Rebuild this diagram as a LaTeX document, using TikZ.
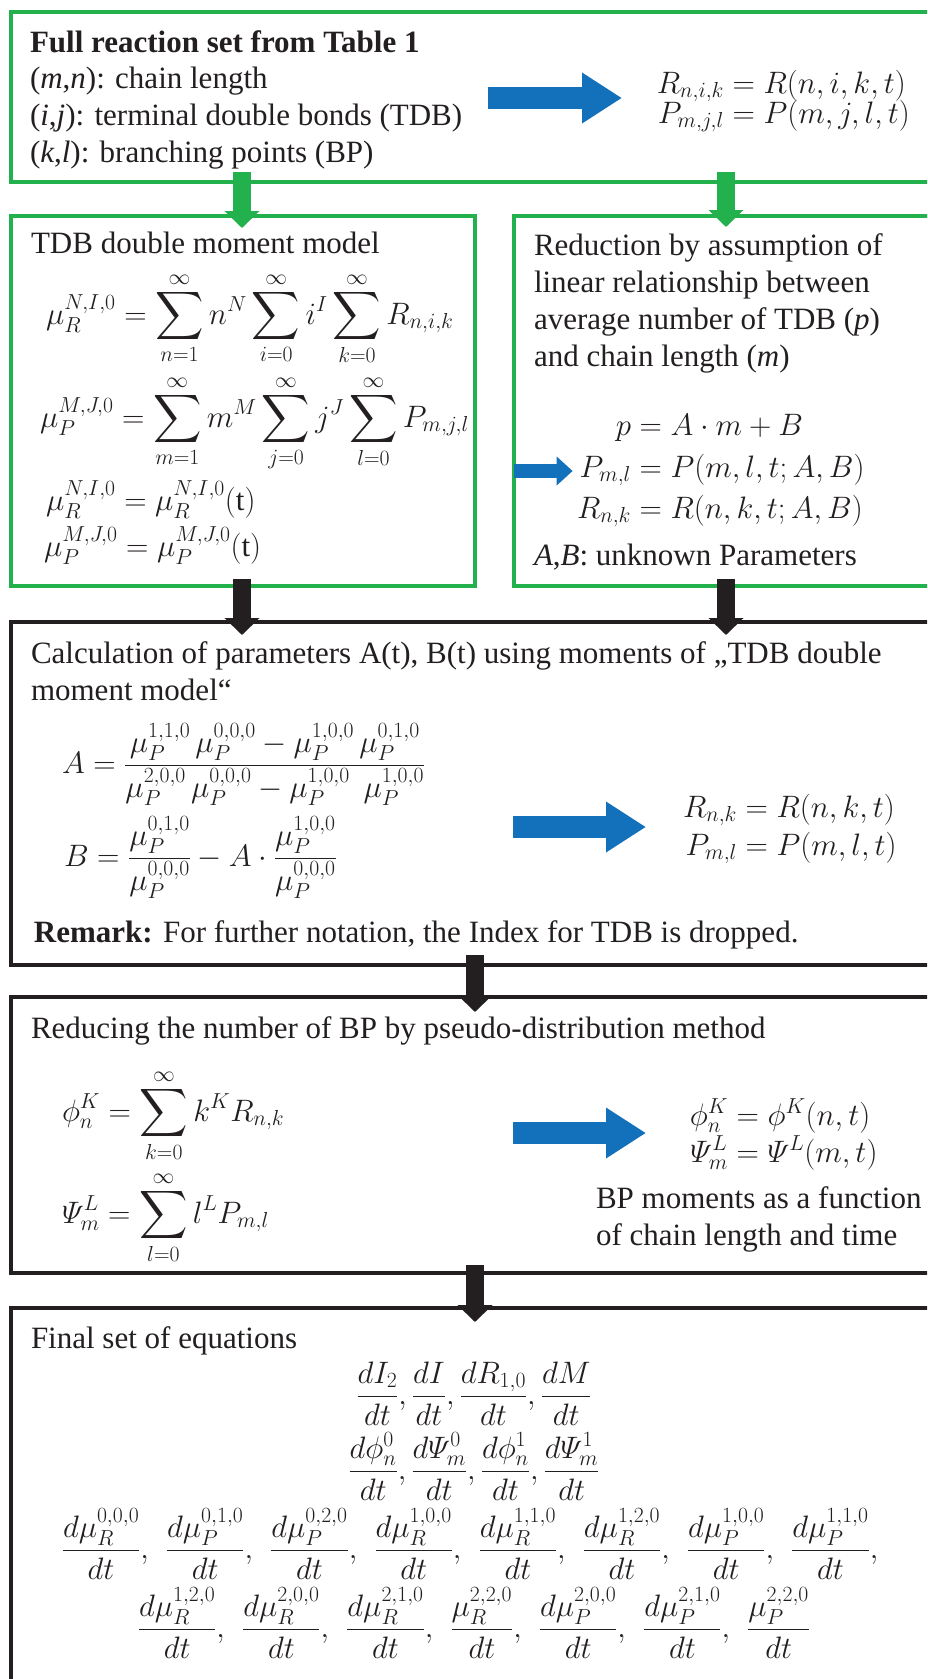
\RequirePackage{fix-cm}
\documentclass[tikz,border=0pt]{standalone}
\usepackage{amsmath}
\usepackage{graphicx}
\usepackage{fontspec}
\setmainfont{Liberation Serif}
\usetikzlibrary{arrows.meta,calc}
\definecolor{fgreen}{RGB}{34,177,76}
\definecolor{fblue}{RGB}{19,112,186}
\definecolor{fblack}{RGB}{35,31,32}
\newcommand{\BigSum}{\mathop{\vcenter{\hbox{\scalebox{1.35}{$\displaystyle\sum$}}}}\limits}
\newcommand{\cm}{,\hspace{12pt}}
\tikzset{
 gbox/.style={draw=fgreen, line width=3.2pt, inner sep=0pt, outer sep=0pt, anchor=north west},
 kbox/.style={draw=fblack, line width=3.4pt, inner sep=0pt, outer sep=0pt, anchor=north west},
 txt/.style={inner sep=0pt, outer sep=0pt, anchor=base west, text=fblack},
 lhs/.style={inner sep=0pt, outer sep=0pt, anchor=base east, text=fblack},
 ctr/.style={inner sep=0pt, outer sep=0pt, anchor=base, text=fblack},
 garrow/.style={draw=fgreen, line width=18pt, -{Triangle[width=34pt,length=17pt]}},
 karrow/.style={draw=fblack, line width=18pt, -{Triangle[width=34pt,length=17pt]}},
 barrow/.style={draw=fblue, line width=22pt, -{Triangle[width=48pt,length=40pt]}},
 sbarrow/.style={draw=fblue, line width=14pt, -{Triangle[width=28pt,length=16pt]}},
}
\begin{document}
\begin{tikzpicture}[x=1pt,y=-1pt,font=\fontsize{31}{37}\selectfont]
\useasboundingbox (0,0) rectangle (927,1679);
\clip (0,0) rectangle (927,1679);
\fill[white] (0,0) rectangle (927,1679);

% boxes
\node[gbox, minimum width=1000pt, minimum height=170pt] (b1) at (11,12) {};
\node[gbox, minimum width=464pt, minimum height=370pt] (b2) at (11,216) {};
\node[gbox, minimum width=600pt, minimum height=370pt] (b3) at (514,216) {};
\node[kbox, minimum width=1000pt, minimum height=343pt] (b4) at (11,622) {};
\node[kbox, minimum width=1000pt, minimum height=276pt] (b5) at (11,997) {};
\node[kbox, minimum width=1000pt, minimum height=500pt] (b6) at (11,1308) {};

% box 1
\node[txt] (t1a) at (30,52) {\textbf{Full reaction set from Table 1}};
\node[txt] (t1b) at (30,88) {(\textit{m},\textit{n}): chain length};
\node[txt] (t1c) at (30,125) {(\textit{i},\textit{j}): terminal double bonds (TDB)};
\node[txt] (t1d) at (30,162) {(\textit{k},\textit{l}): branching points (BP)};
\node[lhs] (e1l) at (724,93) {$R_{n,i,k}$};
\node[txt] (e1r) at (724,93) {${}=R(n,i,k,t)$};
\node[lhs] (e2l) at (724,123) {$P_{m,j,l}$};
\node[txt] (e2r) at (724,123) {${}=P(m,j,l,t)$};
\coordinate (a1s) at (488,98);
\coordinate (a1e) at (622,98);
\draw[barrow] (a1s) -- (a1e);

% box 2
\node[txt] (t2a) at (31,253) {TDB double moment model};
\node[txt] (m1) at (46,324) {$\displaystyle \mu_R^{N,I,0}=\BigSum_{n=1}^{\infty} n^N \BigSum_{i=0}^{\infty} i^I \BigSum_{k=0}^{\infty} R_{n,i,k}$};
\node[txt] (m2) at (40,427) {$\displaystyle \mu_P^{M,J,0}=\BigSum_{m=1}^{\infty} m^M \BigSum_{j=0}^{\infty} j^J \BigSum_{l=0}^{\infty} P_{m,j,l}$};
\node[txt] (m3) at (46,510) {$\mu_R^{N,I,0}=\mu_R^{N,I,0}\mathrm{(t)}$};
\node[txt] (m4) at (44,556) {$\mu_P^{M,J,0}=\mu_P^{M,J,0}\mathrm{(t)}$};

% box 3
\node[txt] (t3a) at (534,255) {Reduction by assumption of};
\node[txt] (t3b) at (534,292) {linear relationship between};
\node[txt] (t3c) at (534,329) {average number of TDB (\textit{p})};
\node[txt] (t3d) at (534,366) {and chain length (\textit{m})};
\node[lhs] (p1l) at (631,435) {$p$};
\node[txt] (p1r) at (631,435) {${}=A\cdot m+B$};
\node[lhs] (p2l) at (631,477) {$P_{m,l}$};
\node[txt] (p2r) at (631,477) {${}=P(m,l,t;A,B)$};
\node[lhs] (p3l) at (631,518) {$R_{n,k}$};
\node[txt] (p3r) at (631,518) {${}=R(n,k,t;A,B)$};
\node[txt] (t3e) at (534,565) {\textit{A},\textit{B}: unknown Parameters};
\coordinate (a2s) at ($(b3.north west)+(0,255)$);
\draw[sbarrow] (a2s) -- ($(p2l.base west)+(-7,-6)$);

% box 4
\node[txt] (t4a) at (31,663) {Calculation of parameters A(t), B(t) using moments of „TDB double};
\node[txt] (t4b) at (31,700) {moment model“};
\node[txt] (mA) at (62,773) {$\displaystyle A=\frac{\mu_P^{1,1,0}\,\mu_P^{0,0,0}-\mu_P^{1,0,0}\,\mu_P^{0,1,0}}{\mu_P^{2,0,0}\,\mu_P^{0,0,0}-\mu_P^{1,0,0}\;\,\mu_P^{1,0,0}}$};
\node[txt] (mB) at (64,866) {$\displaystyle B=\frac{\mu_P^{0,1,0}}{\mu_P^{0,0,0}}-A\cdot\frac{\mu_P^{1,0,0}}{\mu_P^{0,0,0}}$};
\node[lhs] (r1l) at (737,817) {$R_{n,k}$};
\node[txt] (r1r) at (737,817) {${}=R(n,k,t)$};
\node[lhs] (r2l) at (737,855) {$P_{m,l}$};
\node[txt] (r2r) at (737,855) {${}=P(m,l,t)$};
\node[txt] (t4c) at (34,942) {\textbf{Remark:} For further notation, the Index for TDB is dropped.};
\coordinate (a3s) at (513,827);
\coordinate (a3e) at (646,827);
\draw[barrow] (a3s) -- (a3e);

% box 5
\node[txt] (t5a) at (31,1038) {Reducing the number of BP by pseudo-distribution method};
\node[txt] (m5) at (62,1121) {$\displaystyle \phi_n^K=\BigSum_{k=0}^{\infty} k^K R_{n,k}$};
\node[txt] (m6) at (62,1223) {$\displaystyle \varPsi_m^L=\BigSum_{l=0}^{\infty} l^L P_{m,l}$};
\node[lhs] (f1l) at (728,1125) {$\phi_n^K$};
\node[txt] (f1r) at (728,1125) {${}=\phi^K(n,t)$};
\node[lhs] (f2l) at (728,1162) {$\varPsi_m^L$};
\node[txt] (f2r) at (728,1162) {${}=\varPsi^L(m,t)$};
\node[txt] (t5b) at (596,1208) {BP moments as a function};
\node[txt] (t5c) at (596,1245) {of chain length and time};
\coordinate (a4s) at (513,1133);
\coordinate (a4e) at (646,1133);
\draw[barrow] (a4s) -- (a4e);

% box 6
\node[txt] (t6a) at (31,1348) {Final set of equations};
\node[ctr] (q1) at (474,1404) {$\displaystyle \frac{dI_2}{dt},\frac{dI}{dt},\frac{dR_{1,0}}{dt},\frac{dM}{dt}$};
\node[ctr] (q2) at (474,1479) {$\displaystyle \frac{d\phi_n^0}{dt},\frac{d\varPsi_m^0}{dt},\frac{d\phi_n^1}{dt},\frac{d\varPsi_m^1}{dt}$};
\node[ctr] (q3) at (470,1558) {$\displaystyle \frac{d\mu_R^{0,0,0}}{dt}\cm\frac{d\mu_P^{0,1,0}}{dt}\cm\frac{d\mu_P^{0,2,0}}{dt}\cm\frac{d\mu_R^{1,0,0}}{dt}\cm\frac{d\mu_R^{1,1,0}}{dt}\cm\frac{d\mu_R^{1,2,0}}{dt}\cm\frac{d\mu_P^{1,0,0}}{dt}\cm\frac{d\mu_P^{1,1,0}}{dt},$};
\node[ctr] (q4) at (474,1637) {$\displaystyle \frac{d\mu_R^{1,2,0}}{dt}\cm\frac{d\mu_R^{2,0,0}}{dt}\cm\frac{d\mu_R^{2,1,0}}{dt}\cm\frac{\mu_R^{2,2,0}}{dt}\cm\frac{d\mu_P^{2,0,0}}{dt}\cm\frac{d\mu_P^{2,1,0}}{dt}\cm\frac{\mu_P^{2,2,0}}{dt}$};

% connectors
\draw[garrow] ([xshift=231pt,yshift=10pt]b1.south west) -- ([xshift=231pt,yshift=-12pt]b2.north west);
\draw[garrow] ([xshift=715pt,yshift=10pt]b1.south west) -- ([xshift=212pt,yshift=-11pt]b3.north west);
\draw[karrow] ([xshift=231pt,yshift=7pt]b2.south west) -- ([xshift=231pt,yshift=-13pt]b4.north west);
\draw[karrow] ([xshift=212pt,yshift=7pt]b3.south west) -- ([xshift=715pt,yshift=-13pt]b4.north west);
\draw[karrow] ([xshift=464pt,yshift=10pt]b4.south west) -- ([xshift=464pt,yshift=-15pt]b5.north west);
\draw[karrow] ([xshift=464pt,yshift=8pt]b5.south west) -- ([xshift=464pt,yshift=-14pt]b6.north west);
\end{tikzpicture}
\end{document}
